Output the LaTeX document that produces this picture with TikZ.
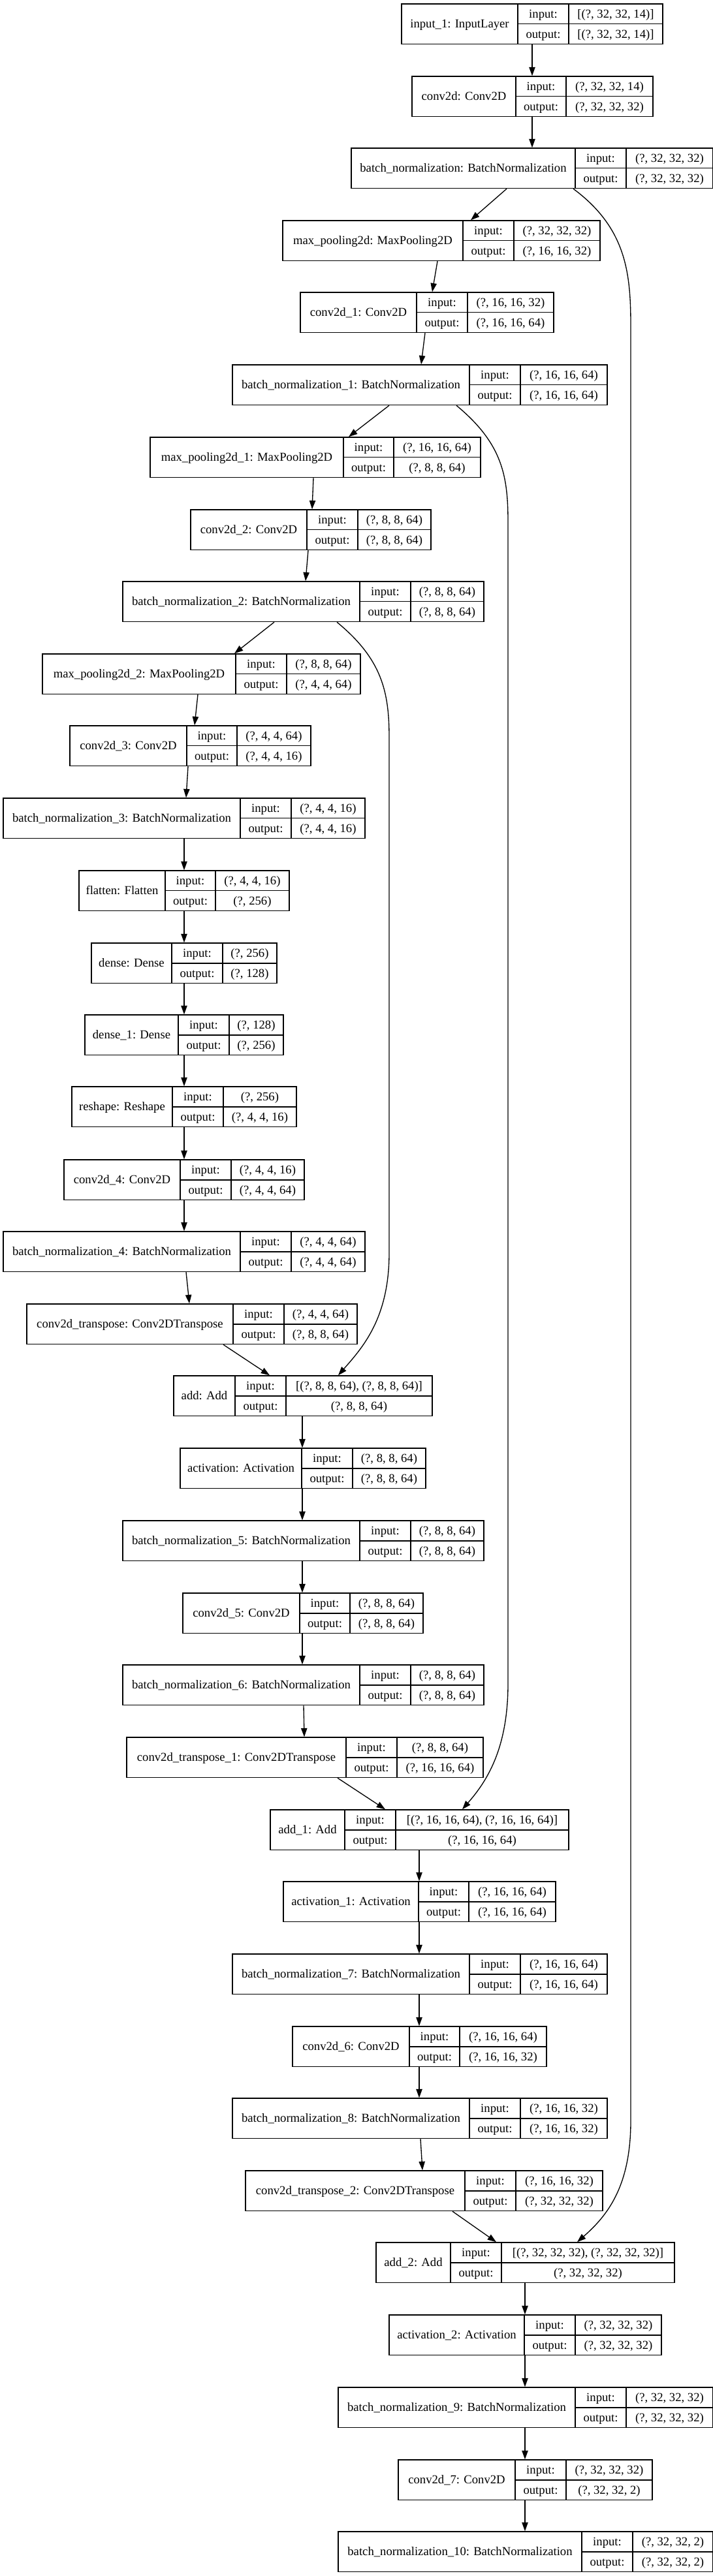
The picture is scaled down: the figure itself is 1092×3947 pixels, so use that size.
\documentclass[tikz,border=0pt]{standalone}
\usepackage{fontspec}
\setmainfont{Liberation Serif}
\usepackage{tikz}
\usetikzlibrary{arrows.meta}
\usetikzlibrary{fit}

% one keras layer: name, left, split 1, split 2, right, top, label, input, output
\newcommand{\layerbox}[9]{%
  \node[box, fit={(#2,#6) (#5,{#6+61.5})}] (#1) {};
  \draw[cell] (#3,#6) -- (#3,{#6+61.5});
  \draw[cell] (#4,#6) -- (#4,{#6+61.5});
  \draw[cell] (#3,{#6+30.75}) -- (#5,{#6+30.75});
  \node[txt] (#1-name) at ({(#2+#3)/2},{#6+30.75}) {#7};
  \node[txt] (#1-inkey) at ({(#3+#4)/2},{#6+15.4}) {input:};
  \node[txt] (#1-outkey) at ({(#3+#4)/2},{#6+46.1}) {output:};
  \node[txt] (#1-in) at ({(#4+#5)/2},{#6+15.4}) {#8};
  \node[txt] (#1-out) at ({(#4+#5)/2},{#6+46.1}) {#9};
}

\begin{document}
\begin{tikzpicture}[x = 0.75pt, y = -0.75pt,
    box/.style = {draw, rectangle, line width = 1.1pt, inner sep = 0pt},
    cell/.style = {line width = 1.1pt},
    txt/.style = {inner sep = 0pt, text height = 9pt, text depth = 0pt, font = \fontsize{14pt}{16pt}\selectfont},
    edge/.style = {line width = 1pt, -{Triangle[length = 10pt, width = 7pt]}}]
          \useasboundingbox (0, 0) rectangle (1092, 3947);

          \layerbox{input-1}{615}{793}{871}{1015}{6}{input\_1: InputLayer}{[(?, 32, 32, 14)]}{[(?, 32, 32, 14)]}
          \layerbox{conv2d}{631}{790}{867}{1000}{117}{conv2d: Conv2D}{(?, 32, 32, 14)}{(?, 32, 32, 32)}
          \layerbox{bn}{538}{881}{959}{1092}{227}{batch\_normalization: BatchNormalization}{(?, 32, 32, 32)}{(?, 32, 32, 32)}
          \layerbox{pool}{433}{709}{787}{919}{338}{max\_pooling2d: MaxPooling2D}{(?, 32, 32, 32)}{(?, 16, 16, 32)}
          \layerbox{conv2d-1}{460}{638}{716}{848}{448}{conv2d\_1: Conv2D}{(?, 16, 16, 32)}{(?, 16, 16, 64)}
          \layerbox{bn-1}{356}{719}{797}{930}{559}{batch\_normalization\_1: BatchNormalization}{(?, 16, 16, 64)}{(?, 16, 16, 64)}
          \layerbox{pool-1}{230}{526}{603}{736}{670}{max\_pooling2d\_1: MaxPooling2D}{(?, 16, 16, 64)}{(?, 8, 8, 64)}
          \layerbox{conv2d-2}{292}{470}{548}{660}{781}{conv2d\_2: Conv2D}{(?, 8, 8, 64)}{(?, 8, 8, 64)}
          \layerbox{bn-2}{188}{551}{629}{741}{891}{batch\_normalization\_2: BatchNormalization}{(?, 8, 8, 64)}{(?, 8, 8, 64)}
          \layerbox{pool-2}{65}{361}{439}{552}{1002}{max\_pooling2d\_2: MaxPooling2D}{(?, 8, 8, 64)}{(?, 4, 4, 64)}
          \layerbox{conv2d-3}{107}{286}{363}{476}{1112}{conv2d\_3: Conv2D}{(?, 4, 4, 64)}{(?, 4, 4, 16)}
          \layerbox{bn-3}{5}{368}{446}{559}{1223}{batch\_normalization\_3: BatchNormalization}{(?, 4, 4, 16)}{(?, 4, 4, 16)}
          \layerbox{flatten}{121}{253}{330}{443}{1334}{flatten: Flatten}{(?, 4, 4, 16)}{(?, 256)}
          \layerbox{dense}{140}{263}{341}{424}{1445}{dense: Dense}{(?, 256)}{(?, 128)}
          \layerbox{dense-1}{130}{273}{351}{434}{1555}{dense\_1: Dense}{(?, 128)}{(?, 256)}
          \layerbox{reshape}{110}{264}{342}{454}{1665}{reshape: Reshape}{(?, 256)}{(?, 4, 4, 16)}
          \layerbox{conv2d-4}{98}{276}{354}{466}{1777}{conv2d\_4: Conv2D}{(?, 4, 4, 16)}{(?, 4, 4, 64)}
          \layerbox{bn-4}{5}{368}{446}{559}{1887}{batch\_normalization\_4: BatchNormalization}{(?, 4, 4, 64)}{(?, 4, 4, 64)}
          \layerbox{convT}{41}{357}{435}{547}{1998}{conv2d\_transpose: Conv2DTranspose}{(?, 4, 4, 64)}{(?, 8, 8, 64)}
          \layerbox{add}{266}{360}{438}{662}{2108}{add: Add}{[(?, 8, 8, 64), (?, 8, 8, 64)]}{(?, 8, 8, 64)}
          \layerbox{act}{276}{462}{540}{652}{2219}{activation: Activation}{(?, 8, 8, 64)}{(?, 8, 8, 64)}
          \layerbox{bn-5}{188}{551}{629}{741}{2330}{batch\_normalization\_5: BatchNormalization}{(?, 8, 8, 64)}{(?, 8, 8, 64)}
          \layerbox{conv2d-5}{280}{459}{536}{648}{2441}{conv2d\_5: Conv2D}{(?, 8, 8, 64)}{(?, 8, 8, 64)}
          \layerbox{bn-6}{188}{551}{629}{741}{2551}{batch\_normalization\_6: BatchNormalization}{(?, 8, 8, 64)}{(?, 8, 8, 64)}
          \layerbox{convT-1}{194}{530}{608}{740}{2662}{conv2d\_transpose\_1: Conv2DTranspose}{(?, 8, 8, 64)}{(?, 16, 16, 64)}
          \layerbox{add-1}{414}{528}{606}{871}{2773}{add\_1: Add}{[(?, 16, 16, 64), (?, 16, 16, 64)]}{(?, 16, 16, 64)}
          \layerbox{act-1}{434}{641}{718}{851}{2883}{activation\_1: Activation}{(?, 16, 16, 64)}{(?, 16, 16, 64)}
          \layerbox{bn-7}{356}{719}{797}{930}{2994}{batch\_normalization\_7: BatchNormalization}{(?, 16, 16, 64)}{(?, 16, 16, 64)}
          \layerbox{conv2d-6}{448}{627}{704}{837}{3105}{conv2d\_6: Conv2D}{(?, 16, 16, 64)}{(?, 16, 16, 32)}
          \layerbox{bn-8}{356}{719}{797}{930}{3215}{batch\_normalization\_8: BatchNormalization}{(?, 16, 16, 32)}{(?, 16, 16, 32)}
          \layerbox{convT-2}{376}{712}{790}{923}{3326}{conv2d\_transpose\_2: Conv2DTranspose}{(?, 16, 16, 32)}{(?, 32, 32, 32)}
          \layerbox{add-2}{576}{690}{768}{1033}{3436}{add\_2: Add}{[(?, 32, 32, 32), (?, 32, 32, 32)]}{(?, 32, 32, 32)}
          \layerbox{act-2}{596}{803}{881}{1013}{3547}{activation\_2: Activation}{(?, 32, 32, 32)}{(?, 32, 32, 32)}
          \layerbox{bn-9}{518}{881}{959}{1092}{3658}{batch\_normalization\_9: BatchNormalization}{(?, 32, 32, 32)}{(?, 32, 32, 32)}
          \layerbox{conv2d-7}{610}{789}{867}{999}{3769}{conv2d\_7: Conv2D}{(?, 32, 32, 32)}{(?, 32, 32, 2)}
          \layerbox{bn-10}{518}{891}{969}{1092}{3879}{batch\_normalization\_10: BatchNormalization}{(?, 32, 32, 2)}{(?, 32, 32, 2)}

          % main chain
          \draw[edge] (input-1.south -| 815,0) -- (conv2d.north -| 815,0);
          \draw[edge] (conv2d.south -| 815,0) -- (bn.north -| 815,0);
          \draw[edge] (bn.south -| 776,0) -- (pool.north -| 721,0);
          \draw[edge] (pool.south -| 670,0) -- (conv2d-1.north -| 662,0);
          \draw[edge] (conv2d-1.south -| 651,0) -- (bn-1.north -| 645,0);
          \draw[edge] (bn-1.south -| 596,0) -- (pool-1.north -| 534,0);
          \draw[edge] (pool-1.south -| 480,0) -- (conv2d-2.north -| 478,0);
          \draw[edge] (conv2d-2.south -| 472,0) -- (bn-2.north -| 468,0);
          \draw[edge] (bn-2.south -| 420,0) -- (pool-2.north -| 359,0);
          \draw[edge] (pool-2.south -| 303,0) -- (conv2d-3.north -| 298,0);
          \draw[edge] (conv2d-3.south -| 288,0) -- (bn-3.north -| 285,0);
          \draw[edge] (bn-3.south -| 282,0) -- (flatten.north -| 282,0);
          \draw[edge] (flatten.south -| 282,0) -- (dense.north -| 282,0);
          \draw[edge] (dense.south -| 282,0) -- (dense-1.north -| 282,0);
          \draw[edge] (dense-1.south -| 282,0) -- (reshape.north -| 282,0);
          \draw[edge] (reshape.south -| 282,0) -- (conv2d-4.north -| 282,0);
          \draw[edge] (conv2d-4.south -| 282,0) -- (bn-4.north -| 282,0);
          \draw[edge] (bn-4.south -| 285,0) -- (convT.north -| 290,0);
          \draw[edge] (convT.south -| 342,0) -- (add.north -| 413,0);
          \draw[edge] (add.south -| 463,0) -- (act.north -| 463,0);
          \draw[edge] (act.south -| 463,0) -- (bn-5.north -| 463,0);
          \draw[edge] (bn-5.south -| 463,0) -- (conv2d-5.north -| 463,0);
          \draw[edge] (conv2d-5.south -| 463,0) -- (bn-6.north -| 463,0);
          \draw[edge] (bn-6.south -| 465,0) -- (convT-1.north -| 466,0);
          \draw[edge] (convT-1.south -| 517,0) -- (add-1.north -| 590,0);
          \draw[edge] (add-1.south -| 642,0) -- (act-1.north -| 642,0);
          \draw[edge] (act-1.south -| 642,0) -- (bn-7.north -| 642,0);
          \draw[edge] (bn-7.south -| 642,0) -- (conv2d-6.north -| 642,0);
          \draw[edge] (conv2d-6.south -| 642,0) -- (bn-8.north -| 642,0);
          \draw[edge] (bn-8.south -| 644,0) -- (convT-2.north -| 647,0);
          \draw[edge] (convT-2.south -| 693,0) -- (add-2.north -| 760,0);
          \draw[edge] (add-2.south -| 804,0) -- (act-2.north -| 804,0);
          \draw[edge] (act-2.south -| 804,0) -- (bn-9.north -| 804,0);
          \draw[edge] (bn-9.south -| 804,0) -- (conv2d-7.north -| 804,0);
          \draw[edge] (conv2d-7.south -| 804,0) -- (bn-10.north -| 804,0);

          % skip connections
          \draw[edge] (bn.south -| 878,0) .. controls (960,350) and (966,420) .. (966,500)
            -- (966,3250) .. controls (966,3350) and (930,3395) .. (add-2.north -| 884,0);
          \draw[edge] (bn-1.south -| 699,0) .. controls (770,680) and (778,730) .. (778,800)
            -- (778,2580) .. controls (778,2680) and (745,2730) .. (add-1.north -| 708,0);
          \draw[edge] (bn-2.south -| 516,0) .. controls (585,1010) and (596,1060) .. (596,1130)
            -- (596,1920) .. controls (596,2020) and (555,2065) .. (add.north -| 518,0);
        \end{tikzpicture}
\end{document}
